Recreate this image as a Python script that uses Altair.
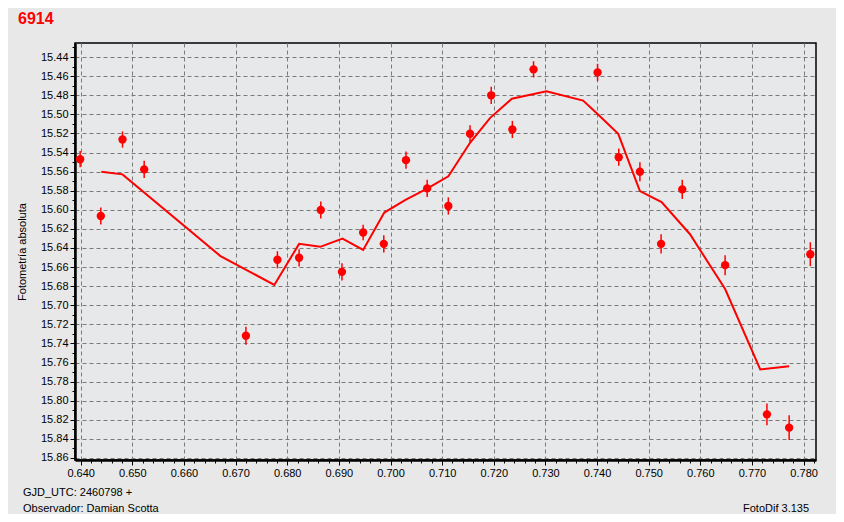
import altair as alt
import pandas as pd

# ---- data ----
obs_phase = [0.6399, 0.6439, 0.6481, 0.6523, 0.6720, 0.6781, 0.6823, 0.6865, 0.6906,
             0.6947, 0.6987, 0.7030, 0.7071, 0.7112, 0.7154, 0.7195, 0.7236, 0.7277,
             0.7401, 0.7442, 0.7483, 0.7524, 0.7565, 0.7648, 0.7729, 0.7772, 0.7813]
obs_mag = [15.547, 15.6065, 15.5264, 15.5577, 15.732, 15.6524, 15.6503, 15.6002, 15.665,
           15.6238, 15.6357, 15.548, 15.5776, 15.596, 15.5204, 15.4801, 15.5159, 15.4529,
           15.4561, 15.5449, 15.5601, 15.6357, 15.5786, 15.658, 15.8143, 15.8282, 15.6465]
obs_err = [0.0085, 0.009, 0.0085, 0.009, 0.0095, 0.009, 0.009, 0.009, 0.009,
           0.008, 0.009, 0.009, 0.009, 0.009, 0.009, 0.009, 0.009, 0.0085,
           0.009, 0.009, 0.010, 0.010, 0.010, 0.0105, 0.0115, 0.013, 0.0125]

fit_phase = [0.6440, 0.6481, 0.6670, 0.6775, 0.6823, 0.6864, 0.6907, 0.6947, 0.6988,
             0.7029, 0.7070, 0.7112, 0.7154, 0.7193, 0.7235, 0.7302, 0.7373, 0.7400,
             0.7441, 0.7483, 0.7525, 0.7580, 0.7648, 0.7716, 0.7772]
fit_mag = [15.5601, 15.5629, 15.6482, 15.6787, 15.6357, 15.6388, 15.6301, 15.6420, 15.6029,
           15.5897, 15.5780, 15.5650, 15.5298, 15.5037, 15.4836, 15.4759, 15.4856, 15.4992,
           15.5204, 15.5804, 15.5920, 15.6256, 15.6830, 15.7673, 15.7638]

chart_title = "6914"
footer_line1 = "GJD_UTC: 2460798 +"
footer_line2 = "Observador: Damian Scotta"
footer_right = "FotoDif 3.135"
y_title = "Fotometría absoluta"

x_ticks = [round(0.640 + 0.002 * i, 3) for i in range(72)]
y_ticks = [round(15.43 + 0.01 * i, 2) for i in range(44)]

# ---- tables ----
obs = pd.DataFrame({"phase": obs_phase, "mag": obs_mag, "err": obs_err})
obs["lo"] = obs["mag"] - obs["err"]
obs["hi"] = obs["mag"] + obs["err"]
fit = pd.DataFrame({"phase": fit_phase, "mag": fit_mag})

FONT = "Liberation Sans"
RED = "#FF0000"
W, H = 741, 417

x_major = "round(datum.value*1000) % 10 === 0"
y_major = "round(datum.value*100) % 2 === 0"

x_scale = alt.Scale(domain=[0.6389, 0.7824], nice=False, zero=False)
y_scale = alt.Scale(domain=[15.4253, 15.8621], reverse=True, nice=False, zero=False)

x_axis = alt.Axis(
    values=x_ticks,
    labelExpr=f"{x_major} ? format(datum.value, '.3f') : ''",
    labelOverlap=False, labelFlush=False,
    tickSize={"condition": {"test": x_major, "value": 5}, "value": 3},
    gridOpacity={"condition": {"test": x_major, "value": 1}, "value": 0},
    title=None, labelPadding=2,
)
y_axis = alt.Axis(
    values=y_ticks,
    labelExpr=f"{y_major} ? format(datum.value, '.2f') : ''",
    labelOverlap=False, labelFlush=False,
    tickSize={"condition": {"test": y_major, "value": 5}, "value": 3},
    gridOpacity={"condition": {"test": y_major, "value": 1}, "value": 0},
    title=y_title, titleX=-53, titleY=H / 2, titleAngle=270,
    titleAlign="center", titleBaseline="middle", labelPadding=2,
)

X = alt.X("phase:Q", scale=x_scale, axis=x_axis)

err_bars = alt.Chart(obs).mark_rule(color=RED, strokeWidth=1.5).encode(
    x=X,
    y=alt.Y("lo:Q", scale=y_scale, axis=y_axis),
    y2="hi:Q",
)
points = alt.Chart(obs).mark_point(filled=True, shape="circle", size=70, color=RED, opacity=1).encode(
    x=X, y=alt.Y("mag:Q", scale=y_scale, axis=y_axis)
)
line = alt.Chart(fit).mark_line(color=RED, strokeWidth=2).encode(
    x=X, y=alt.Y("mag:Q", scale=y_scale, axis=y_axis)
)


def label(text, xpx, ypx, size=11, bold=False, color="black"):
    return alt.Chart(pd.DataFrame({"t": [text]})).mark_text(
        font=FONT, fontSize=size, fontWeight="bold" if bold else "normal",
        color=color, align="left", baseline="middle"
    ).encode(text="t:N", x=alt.value(xpx), y=alt.value(ypx))


title_txt = label(chart_title, -57, -24, size=16, bold=True, color=RED)
foot1 = label(footer_line1, -52, 450)
foot2 = label(footer_line2, -52, 466)
foot3 = label(footer_right, 668, 466)

chart = (
    alt.layer(err_bars, points, line, title_txt, foot1, foot2, foot3)
    .properties(
        width=W, height=H,
        autosize=alt.AutoSizeParams(type="none"),
        padding={"left": 67, "top": 35, "right": 20, "bottom": 54},
        background="#E8E8E8",
    )
    .configure_view(stroke="black", strokeWidth=1.5, fill="#E7E8EA")
    .configure_axis(
        labelFont=FONT, labelFontSize=11, labelColor="black",
        titleFont=FONT, titleFontSize=11, titleColor="black", titleFontWeight="normal",
        tickColor="black", tickWidth=1,
        domainColor="black", domainWidth=2.5,
        grid=True, gridColor="#7a7a7a", gridDash=[4, 3], gridWidth=1,
    )
)

chart.save("out.html", embed_options={"renderer": "svg", "actions": False})
